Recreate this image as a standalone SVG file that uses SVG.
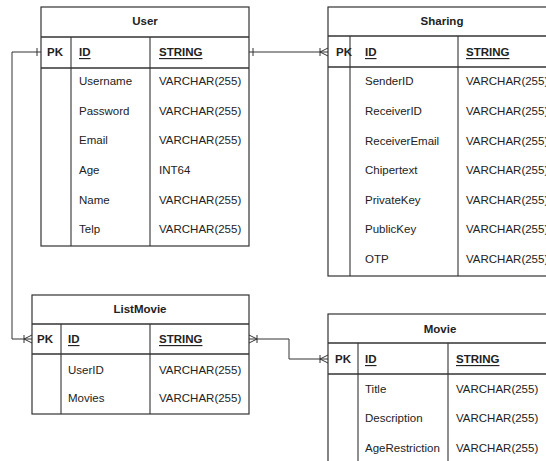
<svg xmlns="http://www.w3.org/2000/svg" width="546" height="461" viewBox="0 0 546 461">
<style>
  .box{fill:#fff;stroke:#333;stroke-width:1.2}
  .sep{stroke:#333;stroke-width:1.6}
  .col{stroke:#333;stroke-width:1.1}
  text{font-family:"Liberation Sans",Arial,sans-serif;font-size:11.5px;fill:#222;dominant-baseline:central}
  .h{font-weight:bold;text-anchor:middle}
  .b{font-weight:bold}
  .u{font-weight:bold;text-decoration:underline}
  .conn{fill:none;stroke:#333;stroke-width:1}
</style>
<defs>
  <marker id="many" viewBox="0 0 10 10" refX="10" refY="5" markerWidth="10" markerHeight="10" markerUnits="userSpaceOnUse" orient="auto-start-reverse">
    <path d="M2 1V9M2 5L10 1M2 5L10 9" fill="none" stroke="#333" stroke-width="1"/>
  </marker>
  <marker id="one" viewBox="0 0 10 10" refX="10" refY="5" markerWidth="10" markerHeight="10" markerUnits="userSpaceOnUse" orient="auto-start-reverse">
    <path d="M6 1V9" fill="none" stroke="#333" stroke-width="1"/>
  </marker>
</defs>
<g id="connectors">
  <path class="conn" d="M41 52H12V339H32" marker-start="url(#one)" marker-end="url(#many)"/>
  <path class="conn" d="M249 52H328" marker-start="url(#one)" marker-end="url(#many)"/>
  <path class="conn" d="M249 339H289V359H328" marker-start="url(#many)" marker-end="url(#many)"/>
</g>
<g id="user">
  <rect class="box" x="41" y="7" width="208" height="239"/>
  <line class="sep" x1="41" y1="37" x2="249" y2="37"/>
  <line class="sep" x1="41" y1="68" x2="249" y2="68"/>
  <line class="col" x1="71" y1="37" x2="71" y2="246"/>
  <line class="col" x1="150" y1="37" x2="150" y2="246"/>
  <text class="h" x="145" y="21">User</text>
  <text class="b" x="47" y="52">PK</text>
  <text class="u" x="79" y="52">ID</text>
  <text class="u" x="159" y="52">STRING</text>
  <text x="79" y="81">Username</text><text x="159" y="81">VARCHAR(255)</text>
  <text x="79" y="111">Password</text><text x="159" y="111">VARCHAR(255)</text>
  <text x="79" y="140">Email</text><text x="159" y="140">VARCHAR(255)</text>
  <text x="79" y="170">Age</text><text x="159" y="170">INT64</text>
  <text x="79" y="200">Name</text><text x="159" y="200">VARCHAR(255)</text>
  <text x="79" y="229">Telp</text><text x="159" y="229">VARCHAR(255)</text>
</g>
<g id="sharing">
  <rect class="box" x="328" y="7" width="228" height="269"/>
  <line class="sep" x1="328" y1="36" x2="556" y2="36"/>
  <line class="sep" x1="328" y1="67" x2="556" y2="67"/>
  <line class="col" x1="350" y1="36" x2="350" y2="276"/>
  <line class="col" x1="458" y1="36" x2="458" y2="276"/>
  <text class="h" x="442" y="21">Sharing</text>
  <text class="b" x="336" y="52">PK</text>
  <text class="u" x="365" y="52">ID</text>
  <text class="u" x="466" y="52">STRING</text>
  <text x="365" y="81">SenderID</text><text x="466" y="81">VARCHAR(255)</text>
  <text x="365" y="111">ReceiverID</text><text x="466" y="111">VARCHAR(255)</text>
  <text x="365" y="141">ReceiverEmail</text><text x="466" y="141">VARCHAR(255)</text>
  <text x="365" y="170">Chipertext</text><text x="466" y="170">VARCHAR(255)</text>
  <text x="365" y="200">PrivateKey</text><text x="466" y="200">VARCHAR(255)</text>
  <text x="365" y="229">PublicKey</text><text x="466" y="229">VARCHAR(255)</text>
  <text x="365" y="259">OTP</text><text x="466" y="259">VARCHAR(255)</text>
</g>
<g id="listmovie">
  <rect class="box" x="32" y="295" width="217" height="119"/>
  <line class="sep" x1="32" y1="324" x2="249" y2="324"/>
  <line class="sep" x1="32" y1="354" x2="249" y2="354"/>
  <line class="col" x1="61" y1="324" x2="61" y2="414"/>
  <line class="col" x1="150" y1="324" x2="150" y2="414"/>
  <text class="h" x="140" y="309">ListMovie</text>
  <text class="b" x="37" y="339">PK</text>
  <text class="u" x="68" y="339">ID</text>
  <text class="u" x="159" y="339">STRING</text>
  <text x="68" y="370">UserID</text><text x="159" y="370">VARCHAR(255)</text>
  <text x="68" y="398">Movies</text><text x="159" y="398">VARCHAR(255)</text>
</g>
<g id="movie">
  <rect class="box" x="328" y="314" width="224" height="160"/>
  <line class="sep" x1="328" y1="343" x2="552" y2="343"/>
  <line class="sep" x1="328" y1="374" x2="552" y2="374"/>
  <line class="col" x1="358" y1="343" x2="358" y2="474"/>
  <line class="col" x1="448" y1="343" x2="448" y2="474"/>
  <text class="h" x="440" y="329">Movie</text>
  <text class="b" x="335" y="359">PK</text>
  <text class="u" x="365" y="359">ID</text>
  <text class="u" x="456" y="359">STRING</text>
  <text x="365" y="389">Title</text><text x="456" y="389">VARCHAR(255)</text>
  <text x="365" y="418">Description</text><text x="456" y="418">VARCHAR(255)</text>
  <text x="365" y="448">AgeRestriction</text><text x="456" y="448">VARCHAR(255)</text>
</g>
</svg>
